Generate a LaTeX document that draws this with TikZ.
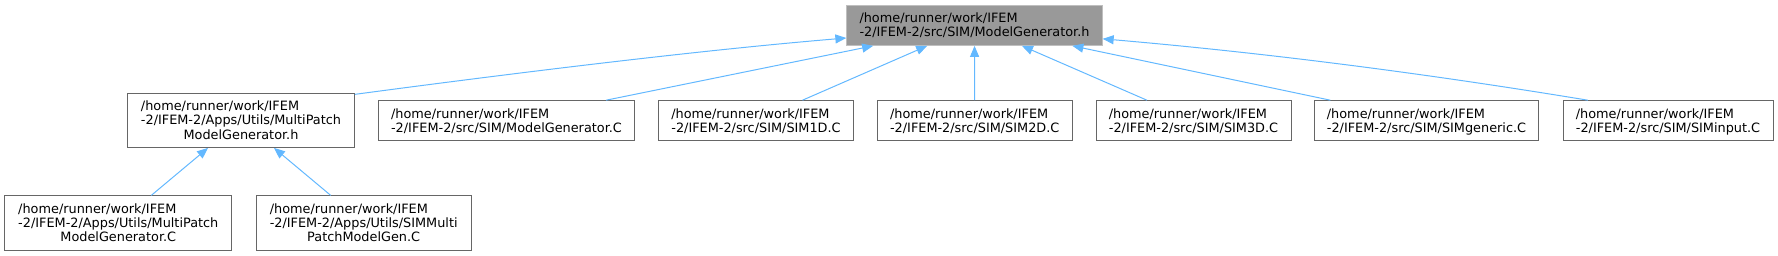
\documentclass[tikz,border=0pt]{standalone}
\usepackage{fontspec}
\setmainfont{DejaVu Sans}
\usetikzlibrary{arrows.meta,calc}
\definecolor{edgeblue}{HTML}{63B8FF}
\definecolor{boxborder}{HTML}{666666}
\definecolor{rootfill}{HTML}{999999}
\definecolor{rootborder}{HTML}{BFBFBF}
\newcommand\lbl[1]{\raisebox{-1.8pt}[\height][\depth]{\begin{tabular}{@{}l@{}}#1\end{tabular}}}
\newcommand\ctrline[1]{\multicolumn{1}{@{}c@{}}{#1}}
\tikzset{
  filebox/.style={draw=boxborder, fill=white, line width=1pt, inner sep=0pt,
    minimum height=39.6pt, font=\fontsize{12.85}{14.2}\selectfont},
  tallbox/.style={filebox, minimum height=54.2pt},
  rootbox/.style={filebox, fill=rootfill, draw=rootborder, minimum height=40.3pt},
  dep/.style={draw=edgeblue, line width=1pt, {Triangle[length=11pt,width=9pt]}-},
}
\begin{document}
\begin{tikzpicture}[x=1pt,y=-1pt]
\useasboundingbox (0,0) rectangle (1778,256);
\node[rootbox, minimum width=255.3pt] (top) at (974.5,25.2) {\lbl{/home/runner/work/IFEM\\-2/IFEM-2/src/SIM/ModelGenerator.h}};
\node[tallbox, minimum width=226.6pt] (mph) at (241,120.3) {\lbl{/home/runner/work/IFEM\\-2/IFEM-2/Apps/Utils/MultiPatch\\\ctrline{ModelGenerator.h}}};
\node[filebox, minimum width=256pt] (mgc) at (506.5,120.5) {\lbl{/home/runner/work/IFEM\\-2/IFEM-2/src/SIM/ModelGenerator.C}};
\node[filebox, minimum width=195pt] (s1) at (756,120.5) {\lbl{/home/runner/work/IFEM\\-2/IFEM-2/src/SIM/SIM1D.C}};
\node[filebox, minimum width=195.2pt] (s2) at (974.7,120.5) {\lbl{/home/runner/work/IFEM\\-2/IFEM-2/src/SIM/SIM2D.C}};
\node[filebox, minimum width=195pt] (s3) at (1193.5,120.5) {\lbl{/home/runner/work/IFEM\\-2/IFEM-2/src/SIM/SIM3D.C}};
\node[filebox, minimum width=224pt] (sg) at (1426.5,120.5) {\lbl{/home/runner/work/IFEM\\-2/IFEM-2/src/SIM/SIMgeneric.C}};
\node[filebox, minimum width=210pt] (inp) at (1668,120.5) {\lbl{/home/runner/work/IFEM\\-2/IFEM-2/src/SIM/SIMinput.C}};
\node[tallbox, minimum width=227.3pt] (mpc) at (118.3,223) {\lbl{/home/runner/work/IFEM\\-2/IFEM-2/Apps/Utils/MultiPatch\\\ctrline{ModelGenerator.C}}};
\node[tallbox, minimum width=214.7pt] (smm) at (363.7,223) {\lbl{/home/runner/work/IFEM\\-2/IFEM-2/Apps/Utils/SIMMulti\\\ctrline{PatchModelGen.C}}};
% edges
\draw[dep] ($(top.south west)!0.19!(top.north west)$) .. controls +(-147,12.3) and +(165,-22) .. ($(mph.north east)!0.03!(mph.south east)$);
\draw[dep] (top) -- (mgc);
\draw[dep] (top) -- (s1);
\draw[dep] (top) -- (s2);
\draw[dep] (top) -- (s3);
\draw[dep] (top) -- (sg);
\draw[dep] ($(top.south east)!0.17!(top.north east)$) .. controls +(139,12) and +(-188,-31) .. ($(inp.north west)!0.12!(inp.north east)$);
\draw[dep] (mph) -- (mpc);
\draw[dep] (mph) -- (smm);
\end{tikzpicture}
\end{document}
